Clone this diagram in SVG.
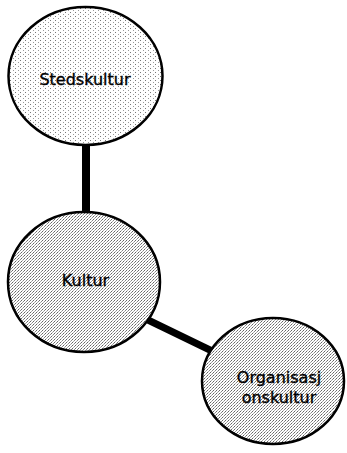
<svg xmlns="http://www.w3.org/2000/svg" width="347" height="453" viewBox="0 0 347 453">
  <style>
    .bubble { stroke: #000; stroke-width: 2.5; }
    .label { font-family: "DejaVu Sans", Verdana, sans-serif; font-size: 16px; fill: #000; stroke: #000; stroke-width: 0.35; text-anchor: middle; }
    .link { stroke: #000; stroke-linecap: butt; fill: none; }
  </style>
  <defs>
    <!-- sparse dither for the top bubble -->
    <pattern id="ditherLight" width="5" height="4" patternUnits="userSpaceOnUse">
      <rect width="5" height="4" fill="#fff"/>
      <rect x="0" y="0" width="1" height="1" fill="#777"/>
      <rect x="3" y="2" width="1" height="1" fill="#999"/>
    </pattern>
    <!-- denser dither for the lower bubbles -->
    <pattern id="ditherDense" width="3" height="3" patternUnits="userSpaceOnUse">
      <rect width="3" height="3" fill="#fff"/>
      <rect x="0" y="0" width="1" height="1" fill="#666"/>
      <rect x="2" y="1" width="1" height="1" fill="#888"/>
      <rect x="1" y="2" width="1" height="1" fill="#aaa"/>
    </pattern>
  </defs>

  <rect width="347" height="453" fill="#fff"/>

  <g id="connectors">
    <line class="link" x1="86" y1="143" x2="86" y2="215" stroke-width="8"/>
    <line class="link" x1="148" y1="320" x2="212" y2="351" stroke-width="7"/>
  </g>

  <g id="stedskultur">
    <ellipse class="bubble" cx="85.5" cy="76" rx="77" ry="69" fill="url(#ditherLight)"/>
    <text class="label" x="85" y="85">Stedskultur</text>
  </g>

  <g id="kultur">
    <ellipse class="bubble" cx="84" cy="282" rx="76" ry="70" fill="url(#ditherDense)"/>
    <text class="label" x="85.5" y="286">Kultur</text>
  </g>

  <g id="organisasjonskultur">
    <ellipse class="bubble" cx="273" cy="381" rx="71" ry="63" fill="url(#ditherDense)"/>
    <text class="label" x="279" y="383">Organisasj</text>
    <text class="label" x="279" y="403">onskultur</text>
  </g>
</svg>
